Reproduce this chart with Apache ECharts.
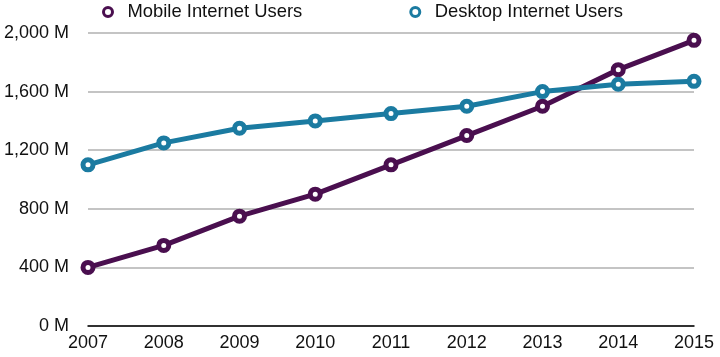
<!DOCTYPE html>
<html><head><meta charset="utf-8">
<script src="https://cdn.jsdelivr.net/npm/echarts@6/dist/echarts.min.js"></script>
<style>html,body{margin:0;padding:0;background:#fff}#c{width:720px;height:357px}</style>
</head><body><div id="c"></div>
<script>
const years = ['2007','2008','2009','2010','2011','2012','2013','2014','2015'];
const mobileUsers = [400, 550, 750, 900, 1100, 1300, 1500, 1750, 1950];
const desktopUsers = [1100, 1250, 1350, 1400, 1450, 1500, 1600, 1650, 1670];
const seriesNames = ['Mobile Internet Users', 'Desktop Internet Users'];
const font = 'Liberation Sans, Arial, Helvetica, sans-serif';
const chart = echarts.init(document.getElementById('c'));
function mkSeries(name, data, color) {
  return {
    name: name, type: 'line', data: data,
    symbol: 'circle', symbolSize: 10,
    lineStyle: { color: color, width: 5 },
    itemStyle: { color: '#fff', borderColor: color, borderWidth: 5 },
    emphasis: { disabled: true }
  };
}
chart.setOption({
  animation: false,
  legend: {
    top: -2, left: 97, itemGap: 107,
    icon: 'circle', itemWidth: 9, itemHeight: 9,
    itemStyle: { borderWidth: 3 },
    textStyle: { fontFamily: font, fontSize: 18.4, color: '#111', padding: [0, 0, 0, 10] },
    data: seriesNames
  },
  grid: { left: 88, right: 26, top: 33, bottom: 31 },
  xAxis: {
    type: 'category', data: years, boundaryGap: false,
    axisLine: { lineStyle: { color: '#000', width: 1.5 } },
    axisTick: { show: false },
    axisLabel: { fontFamily: font, fontSize: 18, color: '#111', margin: 8, interval: 0 }
  },
  yAxis: {
    type: 'value', min: 0, max: 2000, interval: 400,
    axisLine: { show: false }, axisTick: { show: false },
    splitLine: { lineStyle: { color: '#b0b0b0', width: 1.5 } },
    axisLabel: {
      fontFamily: font, fontSize: 18, color: '#111', margin: 19,
      formatter: v => v.toLocaleString('en-US') + ' M'
    }
  },
  series: [
    mkSeries(seriesNames[0], mobileUsers, '#4a0f4f'),
    mkSeries(seriesNames[1], desktopUsers, '#1b7ba1')
  ]
});
</script></body></html>
